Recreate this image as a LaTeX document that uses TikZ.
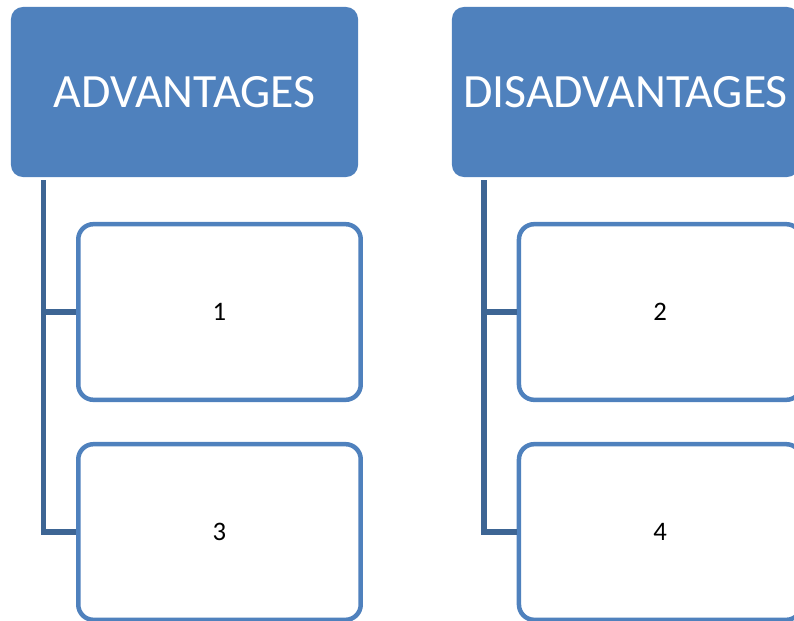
\documentclass[tikz,border=0pt]{standalone}
\usepackage{fontspec}
\setmainfont{Carlito}
\usepackage{tikz}
\usetikzlibrary{positioning}
\usepackage{xcolor}
\definecolor{accent}{HTML}{4F81BD}
\definecolor{accentdark}{HTML}{3D6594}
\tikzstyle{header} = [fill=accent, rounded corners=0.3cm, minimum width=8.675cm, minimum height=4.25cm, inner sep=0pt, text=white, font=\fontsize{34}{41}\selectfont]
\tikzstyle{item}   = [draw=accent, line width=3.2pt, fill=white, rounded corners=0.38cm, minimum width=7.06cm, minimum height=4.39cm, inner sep=0pt, font=\fontsize{19}{23}\selectfont]
\tikzstyle{edge}   = [accentdark, line width=3.6pt]

\begin{document}
\begin{tikzpicture}[x=0.025cm, y=-0.025cm]
\useasboundingbox (0,0) rectangle (794,620);

\node[header] (HA) at (184.5,92) {ADVANTAGES};
\node[header] (HD) at (625.5,92) {DISADVANTAGES};

\node[item] (B1) at (219.5,312) {1};
\node[item] (B3) at (219.5,532) {3};
\node[item] (B2) at (660.2,312) {2};
\node[item] (B4) at (660.2,532) {4};

\coordinate (TA) at (43.5,180);
\coordinate (TD) at (484,180);

\draw[edge] (TA) |- (B3.west);
\draw[edge] (TA |- B1.west) -- (B1.west);
\draw[edge] (TD) |- (B4.west);
\draw[edge] (TD |- B2.west) -- (B2.west);

\end{tikzpicture}
\end{document}
